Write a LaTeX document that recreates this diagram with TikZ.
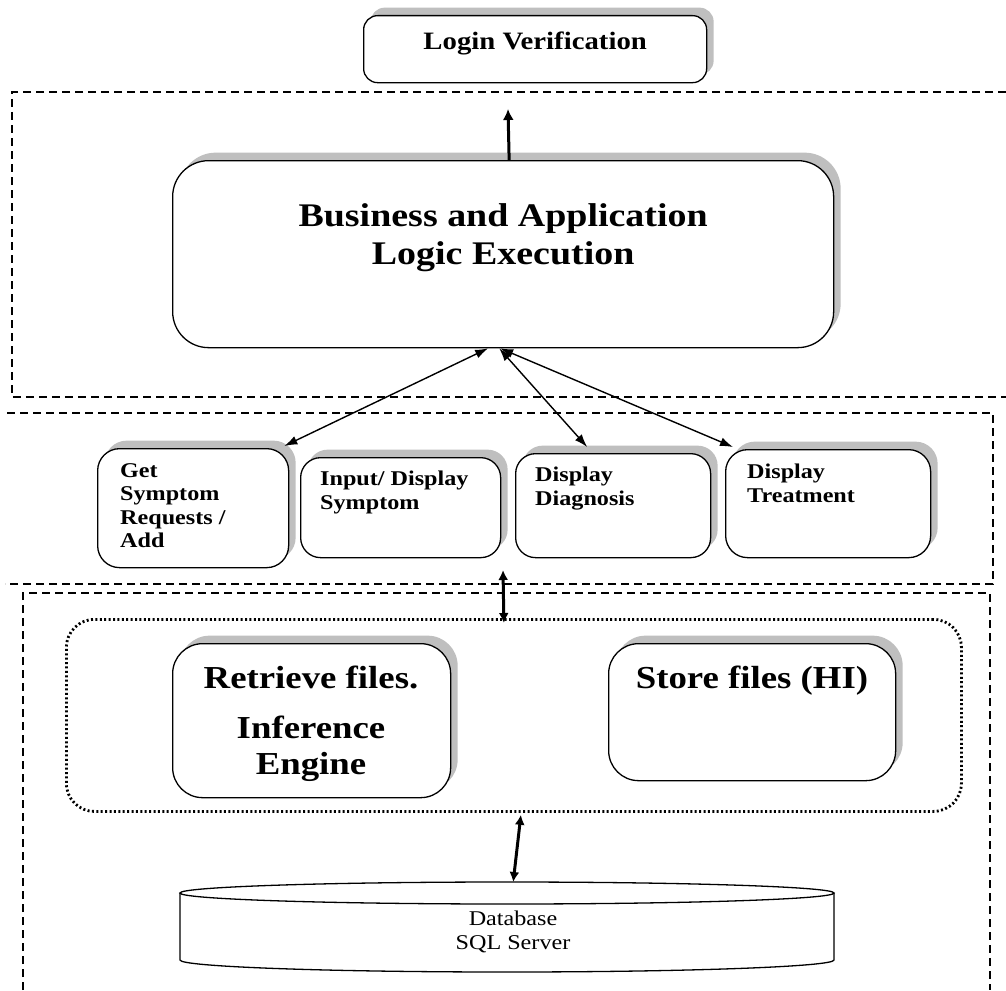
\documentclass[tikz,border=0pt]{standalone}
\usepackage{fontspec}
\setmainfont{Liberation Serif}[FakeStretch=1.15]
\usetikzlibrary{arrows.meta,shadows}

\begin{document}
\begin{tikzpicture}[x=1pt,y=1pt,
  layer/.style={dash pattern=on 8pt off 5pt, line width=1.4pt},
  group/.style={draw, dash pattern=on 2pt off 2.4pt, line width=2.8pt,
                rounded corners=28pt, inner sep=0pt},
  box/.style={draw, line width=1.3pt, fill=white, inner sep=0pt,
              drop shadow={shadow xshift=7pt, shadow yshift=8pt,
                           fill=black!25, opacity=1}},
  label/.style={inner sep=0pt, font=\bfseries},
  link/.style={{Latex[length=13pt,width=9pt]}-{Latex[length=13pt,width=9pt]},
               line width=1.4pt},
  heavy/.style={{Latex[length=10pt,width=10pt]}-{Latex[length=10pt,width=10pt]},
               line width=3pt},
  up/.style={-{Latex[length=11pt,width=11pt]}, line width=3pt}
]
\useasboundingbox (0,0) rectangle (1006,-990);

% tier frames
\draw[layer] (1006,-92) -- (12,-92) -- (12,-397) -- (1006,-397);
\draw[layer] (7,-413) -- (993,-413) -- (993,-584) -- (5,-584);
\draw[layer] (23,-990) -- (23,-593) -- (990,-593) -- (990,-990);

% top tier
\node[box, rounded corners=14pt, minimum width=343pt, minimum height=67pt,
      anchor=north west] (login) at (363,-15) {};
\node[label, font=\fontsize{25}{29}\selectfont\bfseries] (logintext)
      at ([yshift=6pt]login.center) {Login Verification};

\node[box, rounded corners=36pt, minimum width=661pt, minimum height=187pt,
      anchor=north west] (biz) at (172,-160) {};
\node[label, align=center, font=\fontsize{33}{38}\selectfont\bfseries] (biztext)
      at ([yshift=16pt]biz.center) {Business and Application\\Logic Execution};

\coordinate (loginlink) at (508,-109);
\draw[up] ([xshift=6pt]biz.north) -- (loginlink);

% middle tier
\node[box, rounded corners=22pt, minimum width=191pt, minimum height=119pt,
      anchor=north west] (get) at (97,-448) {};
\node[box, rounded corners=20pt, minimum width=200pt, minimum height=100pt,
      anchor=north west] (input) at (300,-457) {};
\node[box, rounded corners=20pt, minimum width=195pt, minimum height=104pt,
      anchor=north west] (diag) at (515,-453) {};
\node[box, rounded corners=22pt, minimum width=205pt, minimum height=108pt,
      anchor=north west] (treat) at (725,-449) {};

\tikzset{small/.style={label, align=left, anchor=north west,
         font=\fontsize{21}{23.5}\selectfont\bfseries}}
\node[small] (gettext) at (120,-463) {Get\\Symptom\\Requests /\\Add};
\node[small] (inputtext) at (320,-471) {Input/ Display\\Symptom};
\node[small] (diagtext) at (535,-467) {Display\\Diagnosis};
\node[small] (treattext) at (747,-464) {Display\\Treatment};

\draw[link] ([xshift=-15pt]biz.south) -- ([xshift=-5pt,yshift=2pt]get.north east);
\draw[link] ([xshift=-4pt]biz.south) -- ([xshift=-26pt,yshift=6pt]diag.north);
\draw[link] ([xshift=-3pt]biz.south) -- ([xshift=8pt,yshift=2pt]treat.north west);

% bottom tier
\node[group, minimum width=895pt, minimum height=192pt, anchor=north west]
      (engine) at (65,-618) {};

\node[box, rounded corners=30pt, minimum width=278pt, minimum height=154pt,
      anchor=north west] (retrieve) at (172,-643) {};
\node[label, align=center, anchor=north, font=\fontsize{32}{36}\selectfont\bfseries]
      (retrievetext) at (311,-666) {Retrieve files.\\[14pt]Inference\\Engine};

\node[box, rounded corners=30pt, minimum width=287pt, minimum height=137pt,
      anchor=north west] (store) at (608,-643) {};
\node[label, anchor=north, font=\fontsize{32}{36}\selectfont\bfseries]
      (storetext) at (752,-666) {Store files (HI)};

\coordinate (bandlow) at (503,-570);
\draw[heavy] (bandlow) -- ([xshift=-10pt,yshift=-5pt]engine.north);

% database
\node[minimum width=654pt, minimum height=90pt, inner sep=0pt,
      anchor=north west] (db) at (180,-882) {};
\draw[line width=1.3pt, fill=white]
  (180,-893) -- (180,-960) arc[start angle=180, end angle=360,
  x radius=327pt, y radius=12pt] -- (834,-893);
\draw[line width=1.3pt] (507,-893) ellipse [x radius=327pt, y radius=11pt];
\node[inner sep=0pt, align=center, anchor=north, font=\fontsize{21}{24}\selectfont]
      (dbtext) at (513,-911) {Database\\SQL Server};

\draw[heavy] ([xshift=7pt,yshift=-2pt]engine.south) -- ([xshift=6pt]db.north);
\end{tikzpicture}
\end{document}
